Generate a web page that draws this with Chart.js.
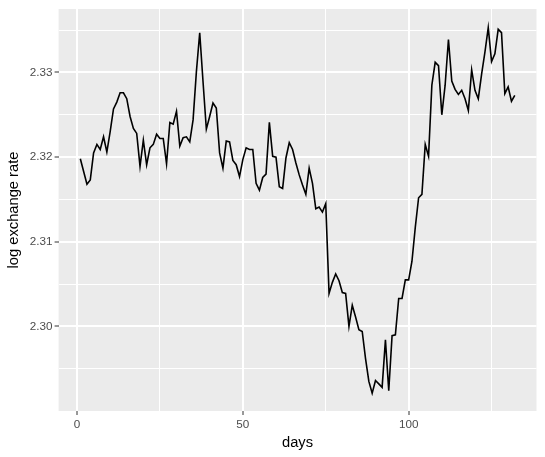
<!DOCTYPE html>
<html>
<head>
<meta charset="utf-8">
<script src="https://cdn.jsdelivr.net/npm/chart.js@4"></script>
<style>
  body { margin: 0; background: #fff; }
  #wrap { width: 545px; height: 457px; }
</style>
</head>
<body>
<div id="wrap"><canvas id="chart" width="545" height="457"></canvas></div>
<script>
// data
const days = [
  1, 2, 3, 4, 5, 6, 7, 8, 9, 10, 11, 12, 13, 14, 15, 16, 17, 18, 19, 20,
  21, 22, 23, 24, 25, 26, 27, 28, 29, 30, 31, 32, 33, 34, 35, 36, 37, 38, 39, 40,
  41, 42, 43, 44, 45, 46, 47, 48, 49, 50, 51, 52, 53, 54, 55, 56, 57, 58, 59, 60,
  61, 62, 63, 64, 65, 66, 67, 68, 69, 70, 71, 72, 73, 74, 75, 76, 77, 78, 79, 80,
  81, 82, 83, 84, 85, 86, 87, 88, 89, 90, 91, 92, 93, 94, 95, 96, 97, 98, 99, 100,
  101, 102, 103, 104, 105, 106, 107, 108, 109, 110, 111, 112, 113, 114, 115, 116, 117, 118, 119, 120,
  121, 122, 123, 124, 125, 126, 127, 128, 129, 130, 131, 132
]
const logRate = [
  2.3198, 2.3183, 2.3168, 2.3173, 2.3205, 2.3215, 2.3209, 2.3224, 2.3206, 2.3230,
  2.3257, 2.3265, 2.3276, 2.3276, 2.3269, 2.3248, 2.3234, 2.3228, 2.3189, 2.3220,
  2.3191, 2.3211, 2.3215, 2.3227, 2.3222, 2.3222, 2.3192, 2.3241, 2.3239, 2.3254,
  2.3213, 2.3223, 2.3224, 2.3218, 2.3244, 2.3301, 2.3347, 2.3289, 2.3233, 2.3248,
  2.3264, 2.3258, 2.3205, 2.3187, 2.3219, 2.3218, 2.3196, 2.3191, 2.3177, 2.3197,
  2.3211, 2.3209, 2.3209, 2.3169, 2.3161, 2.3176, 2.3180, 2.3241, 2.3201, 2.3200,
  2.3165, 2.3163, 2.3199, 2.3217, 2.3209, 2.3193, 2.3179, 2.3167, 2.3156, 2.3187,
  2.3169, 2.3139, 2.3141, 2.3135, 2.3145, 2.3039, 2.3052, 2.3062, 2.3054, 2.3040,
  2.3039, 2.3000, 2.3025, 2.3011, 2.2996, 2.2994, 2.2962, 2.2935, 2.2921, 2.2936,
  2.2932, 2.2928, 2.2984, 2.2924, 2.2989, 2.2990, 2.3033, 2.3033, 2.3055, 2.3055,
  2.3077, 2.3117, 2.3152, 2.3156, 2.3215, 2.3201, 2.3285, 2.3312, 2.3308, 2.3250,
  2.3285, 2.3339, 2.3290, 2.3280, 2.3274, 2.3279, 2.3269, 2.3255, 2.3303, 2.3279,
  2.3269, 2.3298, 2.3324, 2.3353, 2.3313, 2.3322, 2.3351, 2.3347, 2.3275, 2.3283,
  2.3266, 2.3273
]
const xTicks = [0, 25, 50, 75, 100, 125]
const xMajor = [0, 50, 100]
const yTicks = [2.295, 2.30, 2.305, 2.31, 2.315, 2.32, 2.325, 2.33, 2.335]
const yMajor = [2.30, 2.31, 2.32, 2.33]

const font = 'Liberation Sans, Arial, sans-serif'

const isMajor = (list, v) => list.some(m => Math.abs(m - v) < 1e-9)

/* grey panel like ggplot */
const panelBg = {
  id: 'panelBg',
  beforeDraw(chart) {
    const a = chart.chartArea
    const c = chart.ctx
    c.save()
    c.fillStyle = '#EBEBEB'
    c.fillRect(a.left, a.top, a.right - a.left, a.bottom - a.top)
    c.restore()
  }
}

const points = days.map((d, i) => ({ x: d, y: logRate[i] }))

new Chart(document.getElementById('chart'), {
  type: 'line',
  data: {
    datasets: [{
      data: points,
      borderColor: '#000',
      borderWidth: 1.6,
      pointRadius: 0,
      fill: false,
      tension: 0
    }]
  },
  options: {
    responsive: false,
    animation: false,
    layout: { padding: { top: 7.25, right: 8.5, left: 0, bottom: 0 } },
    plugins: { legend: { display: false }, tooltip: { enabled: false } },
    scales: {
      x: {
        type: 'linear',
        min: -5.55,
        max: 138.55,
        afterBuildTicks: s => { s.ticks = xTicks.map(v => ({ value: v })) },
        afterFit: s => { s.height = 46 },
        border: { display: false },
        grid: {
          color: '#fff',
          lineWidth: ctx => isMajor(xMajor, ctx.tick.value) ? 2 : 1,
          tickColor: ctx => isMajor(xMajor, ctx.tick.value) ? '#333' : 'rgba(0,0,0,0)',
          tickWidth: 1,
          tickLength: 4
        },
        ticks: {
          autoSkip: false,
          maxRotation: 0,
          padding: 3,
          color: '#4D4D4D',
          font: { family: font, size: 11.7 },
          callback: v => isMajor(xMajor, v) ? String(v) : ''
        },
        title: {
          display: true,
          text: 'days',
          color: '#000',
          font: { family: font, size: 14.7 },
          padding: { top: 2, bottom: 5 }
        }
      },
      y: {
        type: 'linear',
        min: 2.2900,
        max: 2.3375,
        afterBuildTicks: s => { s.ticks = yTicks.map(v => ({ value: v })) },
        afterFit: s => { s.width = 58.6 },
        border: { display: false },
        grid: {
          color: '#fff',
          lineWidth: ctx => isMajor(yMajor, ctx.tick.value) ? 2 : 1,
          tickColor: ctx => isMajor(yMajor, ctx.tick.value) ? '#333' : 'rgba(0,0,0,0)',
          tickWidth: 1,
          tickLength: 4
        },
        ticks: {
          autoSkip: false,
          padding: 2,
          color: '#4D4D4D',
          font: { family: font, size: 11.7 },
          callback: v => isMajor(yMajor, v) ? v.toFixed(2) : ''
        },
        title: {
          display: true,
          text: 'log exchange rate',
          color: '#000',
          font: { family: font, size: 14.7 },
          padding: { top: 5, bottom: 2 }
        }
      }
    }
  },
  plugins: [panelBg]
})
</script>
</body>
</html>
